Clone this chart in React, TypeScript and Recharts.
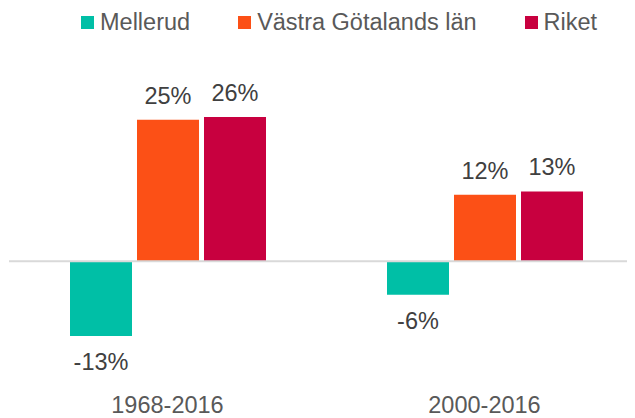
import React from 'react';
import { BarChart, Bar, XAxis, YAxis, ReferenceLine, Legend } from 'recharts';

const categories = ['1968-2016', '2000-2016'];
const mellerud = [-13.4, -6.0];
const vastraGotaland = [25.3, 11.9];
const riket = [25.8, 12.5];
const seriesNames = ['Mellerud', 'Västra Götalands län', 'Riket'];
const seriesKeys = ['mellerud', 'vgl', 'riket'];
const colors = ['#00BFA6', '#FC5016', '#C8003F'];

const FONT = '"Liberation Sans", Arial, sans-serif';

const data = categories.map((c, i) => ({
  category: c,
  mellerud: mellerud[i],
  vgl: vastraGotaland[i],
  riket: riket[i],
}));

const renderLabel = (props: any) => {
  const { x, y, width, height, value } = props;
  const top = Math.min(y, y + height);
  const bottom = Math.max(y, y + height);
  const cy = value >= 0 ? top - 24 : bottom + 26;
  return (
    <text
      x={x + width / 2}
      y={cy}
      textAnchor="middle"
      dominantBaseline="central"
      fill="#404040"
      fontSize={23.5}
      fontFamily={FONT}
    >
      {Math.round(value)}%
    </text>
  );
};

const renderLegend = () => (
  <div
    style={{
      display: 'flex',
      alignItems: 'center',
      paddingLeft: 73,
      height: 30,
      fontFamily: FONT,
      fontSize: 23.5,
      color: '#595959',
      whiteSpace: 'nowrap',
    }}
  >
    {seriesNames.map((n, i) => (
      <div key={n} style={{ display: 'flex', alignItems: 'center', marginRight: i < 2 ? 48 : 0 }}>
        <span style={{ width: 13, height: 13, background: colors[i], display: 'inline-block', marginRight: 6 }} />
        <span>{n}</span>
      </div>
    ))}
  </div>
);

export default function App() {
  return (
    <div style={{ width: 627, height: 410, overflow: 'hidden' }}>
      <BarChart
        width={635}
        height={410}
        data={data}
        margin={{ top: 55.6, right: 0, left: 1, bottom: 0 }}
        barSize={62}
        barGap={5}
      >
        <Legend
          verticalAlign="top"
          content={renderLegend}
          wrapperStyle={{ top: -1, left: 0, width: 627, height: 30 }}
        />
        <XAxis
          dataKey="category"
          axisLine={false}
          tickLine={false}
          tickMargin={17}
          height={45}
          interval={0}
          tick={{ fill: '#595959', fontSize: 23.5, fontFamily: FONT }}
        />
        <YAxis hide domain={[-20, 30]} />
        <ReferenceLine y={0} stroke="#D9D9D9" strokeWidth={2} />
        {seriesKeys.map((k, i) => (
          <Bar key={k} dataKey={k} name={seriesNames[i]} fill={colors[i]} isAnimationActive={false} label={renderLabel} />
        ))}
      </BarChart>
    </div>
  );
}
